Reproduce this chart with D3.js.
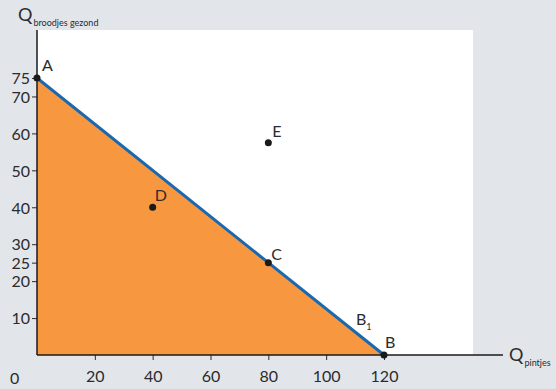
<!DOCTYPE html>
<html lang="nl">
  <head>
    <meta charset="utf-8">
    <script src="https://cdn.jsdelivr.net/npm/d3@7"></script>
    <style>
      body { margin: 0; background: #e2e6eb; }
      svg text { font-family: Lato, "Noto Sans", sans-serif; fill: #2b2b2b; }
    </style>
  </head>
  <body>
    <script>
      var width = 556, height = 389;

      // data
      var xTicks = [20, 40, 60, 80, 100, 120];
      var yTicks = [10, 20, 25, 30, 40, 50, 60, 70, 75];
      var budgetLine = [[0, 75], [120, 0]];
      var points = [
        {name: "A", x: 0, y: 75, dx: 5, dy: -7},
        {name: "B", x: 120, y: 0, dx: 1, dy: -7},
        {name: "C", x: 80, y: 25, dx: 3, dy: -3},
        {name: "D", x: 40, y: 40, dx: 2, dy: -6},
        {name: "E", x: 80, y: 57.5, dx: 4, dy: -6}
      ];

      var x = d3.scaleLinear().domain([0, 120]).range([37, 384]);
      var y = d3.scaleLinear().domain([0, 75]).range([355, 78]);

      var svg = d3.select("body").append("svg")
        .attr("width", width).attr("height", height);

      // white plot area
      svg.append("rect")
        .attr("x", x(0)).attr("y", 30)
        .attr("width", 473 - x(0)).attr("height", y(0) - 30)
        .attr("fill", "#fff");

      // feasible area
      svg.append("path")
        .attr("d", "M" + x(0) + "," + y(0) + "L" + budgetLine.map(function(d){ return [x(d[0]), y(d[1])]; }).join("L") + "Z")
        .attr("fill", "#f79840");

      svg.append("line")
        .attr("x1", x(budgetLine[0][0])).attr("y1", y(budgetLine[0][1]))
        .attr("x2", x(budgetLine[1][0])).attr("y2", y(budgetLine[1][1]))
        .attr("stroke", "#1a68b0").attr("stroke-width", 3);

      // axes
      var yAxis = svg.append("g")
        .attr("transform", "translate(" + x(0) + ",0)")
        .call(d3.axisLeft(y).tickValues(yTicks).tickSize(5).tickPadding(2));
      yAxis.select(".domain").remove();
      yAxis.selectAll("text").style("font-size", "16px").attr("dy", "0.36em");

      var xAxis = svg.append("g")
        .attr("transform", "translate(0," + y(0) + ")")
        .call(d3.axisBottom(x).tickValues(xTicks).tickSize(5).tickPadding(11));
      xAxis.select(".domain").remove();
      xAxis.selectAll("text").style("font-size", "16px");
      svg.selectAll(".tick line").attr("stroke", "#2b2b2b");

      svg.append("line")
        .attr("x1", x(0)).attr("y1", 30).attr("x2", x(0)).attr("y2", y(0))
        .attr("stroke", "#1a1a1a").attr("stroke-width", 1.5);
      svg.append("line")
        .attr("x1", x(0)).attr("y1", y(0)).attr("x2", 503).attr("y2", y(0))
        .attr("stroke", "#1a1a1a").attr("stroke-width", 1.5);

      svg.append("text").attr("x", 10).attr("y", 384)
        .style("font-size", "16px").text("0");

      // axis titles
      var t1 = svg.append("text").attr("x", 18).attr("y", 21).style("font-size", "18px");
      t1.append("tspan").text("Q");
      t1.append("tspan").attr("dy", 5).attr("dx", 1).style("font-size", "9px").text("broodjes gezond");

      var t2 = svg.append("text").attr("x", 509).attr("y", 361).style("font-size", "18px");
      t2.append("tspan").text("Q");
      t2.append("tspan").attr("dy", 5).attr("dx", 1).style("font-size", "9px").text("pintjes");

      // points
      svg.append("g").selectAll("circle")
        .data(points)
        .enter().append("circle")
          .attr("cx", function(d){ return x(d.x); })
          .attr("cy", function(d){ return y(d.y); })
          .attr("r", 3.5)
          .attr("fill", "#1a1a1a");

      svg.append("g").selectAll("text")
        .data(points)
        .enter().append("text")
          .attr("x", function(d){ return x(d.x) + d.dx; })
          .attr("y", function(d){ return y(d.y) + d.dy; })
          .style("font-size", "16px")
          .text(function(d){ return d.name; });

      var b1 = svg.append("text").attr("x", 356).attr("y", 325).style("font-size", "16px");
      b1.append("tspan").text("B");
      b1.append("tspan").attr("dy", 5).style("font-size", "9px").text("1");
    </script>
  </body>
</html>
